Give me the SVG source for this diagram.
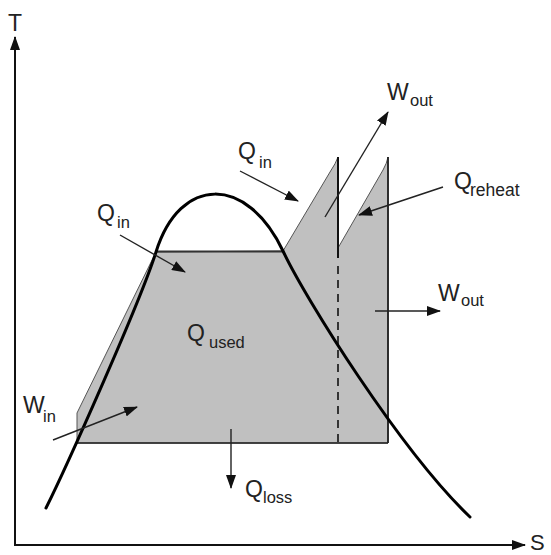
<svg xmlns="http://www.w3.org/2000/svg" width="551" height="555" viewBox="0 0 551 555">
<style>
text{font-family:"Liberation Sans",Arial,sans-serif;fill:#222;font-size:23px}
.sub{font-size:16.5px}
.arr{stroke:#222;stroke-width:1.4;fill:none;marker-end:url(#ah)}
.axis{stroke:#111;stroke-width:2;fill:none;marker-end:url(#axh)}
</style>
<defs>
<marker id="ah" markerUnits="userSpaceOnUse" markerWidth="14" markerHeight="10" refX="13" refY="5" orient="auto" viewBox="0 0 14 10">
<path d="M0,0 L14,5 L0,10 Z" fill="#111"/>
</marker>
<marker id="axh" markerUnits="userSpaceOnUse" markerWidth="14" markerHeight="10" refX="13" refY="5" orient="auto" viewBox="0 0 14 10">
<path d="M0,0 L14,5 L0,10 Z" fill="#111"/>
</marker>
</defs>
<rect width="551" height="555" fill="#fff"/>
<g id="region">
<path d="M77,443 L77,413 L156,252 L283,251 L330,172 Q336,163 338,157 L338,248 L383,170 Q387,163 388,157 L388,443 Z" fill="#c0c0c0" stroke="#555" stroke-width="1"/>
<line x1="156" y1="251.5" x2="283" y2="251.5" stroke="#333" stroke-width="2"/>
<line x1="77" y1="443" x2="388" y2="443" stroke="#222" stroke-width="1.6"/>
<line x1="338" y1="157" x2="338" y2="258" stroke="#111" stroke-width="2"/>
<line x1="338" y1="266" x2="338" y2="443" stroke="#111" stroke-width="1.6" stroke-dasharray="8,6"/>
<line x1="388" y1="157" x2="388" y2="443" stroke="#222" stroke-width="1.8"/>
</g>
<g id="dome">
<path d="M46,508 C65,470 140,303 156,252 C180,175 247,175 283,251 C305,298 400,450 470,517" fill="none" stroke="#000" stroke-width="3" stroke-linecap="round"/>
</g>
<g id="connectors">
<line class="axis" x1="15" y1="546" x2="15" y2="37"/>
<line class="axis" x1="14" y1="545" x2="525" y2="545"/>
<line class="arr" x1="120" y1="235" x2="185" y2="272"/>
<line class="arr" x1="240" y1="171" x2="298" y2="201"/>
<line class="arr" x1="325" y1="217" x2="388" y2="112"/>
<line class="arr" x1="443" y1="187" x2="359" y2="215"/>
<line class="arr" x1="375" y1="311" x2="440" y2="311"/>
<line class="arr" x1="53" y1="440" x2="137" y2="407"/>
<line class="arr" x1="231" y1="429" x2="231" y2="488"/>
</g>
<g id="label-T"><text x="8" y="31">T</text></g>
<g id="label-S"><text x="530" y="550" style="font-size:22px">S</text></g>
<g id="label-Win"><text x="23" y="413">W</text><text class="sub" x="43" y="422">in</text></g>
<g id="label-Qin-left"><text x="97" y="221">Q</text><text class="sub" x="117" y="228">in</text></g>
<g id="label-Qin-top"><text x="238" y="159">Q</text><text class="sub" x="259" y="168">in</text></g>
<g id="label-Wout-top"><text x="387" y="100">W</text><text class="sub" x="410" y="106">out</text></g>
<g id="label-Qreheat"><text x="454" y="189">Q</text><text class="sub" x="470" y="196" style="font-size:17.5px">reheat</text></g>
<g id="label-Wout-right"><text x="438" y="301">W</text><text class="sub" x="461" y="306">out</text></g>
<g id="label-Qused"><text x="187" y="341">Q</text><text class="sub" x="209" y="348">used</text></g>
<g id="label-Qloss"><text x="245" y="497">Q</text><text class="sub" x="263" y="503">loss</text></g>
</svg>
